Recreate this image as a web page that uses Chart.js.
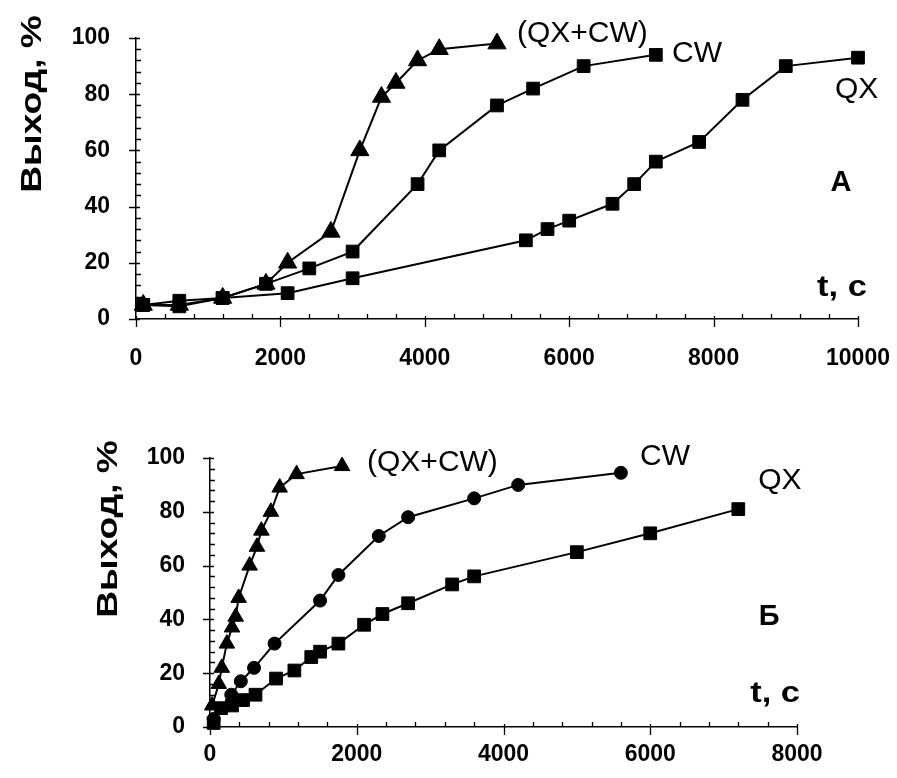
<!DOCTYPE html>
<html>
<head>
<meta charset="utf-8">
<script src="https://cdn.jsdelivr.net/npm/chart.js@4.4.1/dist/chart.umd.min.js"></script>
<style>
  body { margin: 0; background: #fff; }
  .box { position: absolute; left: 0; width: 897px; }
</style>
</head>
<body>
<div class="box" style="top:0;height:390px"><canvas id="chartA"></canvas></div>
<div class="box" style="top:390px;height:388px"><canvas id="chartB"></canvas></div>
<script>
// Panel A
const tA_mix = [100, 600, 1200, 1800, 2100, 2700, 3100, 3400, 3600, 3900, 4200, 5000];
const yA_mix = [5, 5, 7.5, 12.5, 20, 31, 60, 79, 84, 92, 96, 98];
const tA_cw = [100, 600, 1200, 1800, 2400, 3000, 3900, 4200, 5000, 5500, 6200, 7200];
const yA_cw = [5, 6.5, 7.5, 12.5, 18, 24, 48, 60, 76, 82, 90, 94];
const tA_qx = [100, 600, 1200, 2100, 3000, 5400, 5700, 6000, 6600, 6900, 7200, 7800, 8400, 9000, 10000];
const yA_qx = [5, 4.5, 7.5, 9.2, 14.5, 28, 32, 35, 41, 48, 56, 63, 78, 90, 93];

// Panel Б
const tB_mix = [30, 120, 160, 230, 300, 350, 390, 540, 640, 700, 830, 950, 1180, 1800];
const yB_mix = [8, 16, 22, 31, 37, 41, 48, 60, 67, 73, 80, 89, 94, 97];
const tB_cw = [50, 290, 420, 600, 880, 1500, 1750, 2300, 2700, 3600, 4200, 5600];
const yB_cw = [3, 12, 17, 22, 31, 47, 56.5, 71, 78, 85, 90, 94.5];
const tB_qx = [50, 150, 300, 450, 620, 900, 1150, 1380, 1500, 1750, 2100, 2350, 2700, 3300, 3600, 5000, 6000, 7200];
const yB_qx = [1.5, 7, 8, 10, 12, 18, 21, 26, 28, 31, 38, 42, 46, 53, 56, 65, 72, 81];

const yTicks = [0, 20, 40, 60, 80, 100];

const FONT = '"Liberation Sans", Arial, sans-serif';
const pts = (xs, ys) => xs.map((x, i) => ({x: x, y: ys[i]}));

function series(xs, ys, style, r) {
  return {
    data: pts(xs, ys),
    borderColor: '#000',
    borderWidth: 2,
    backgroundColor: '#000',
    pointBackgroundColor: '#000',
    pointBorderColor: '#000',
    pointBorderWidth: 1,
    pointStyle: style,
    pointRadius: r,
    tension: 0,
    clip: false
  };
}

// minor ticks, axis title and the labels written on the plot
const decor = {
  id: 'decor',
  afterDraw(chart, args, o) {
    const {ctx, chartArea: a, scales: {x, y}} = chart;
    ctx.save();
    ctx.strokeStyle = '#000';
    ctx.lineWidth = 1.3;
    ctx.beginPath();
    for (let v = 0; v <= x.max; v += 400) {
      const px = Math.round(x.getPixelForValue(v)) + 0.5;
      if (v % 2000 === 0) { ctx.moveTo(px, a.bottom - 3); ctx.lineTo(px, a.bottom + 8); }
      else { ctx.moveTo(px, a.bottom - 5); ctx.lineTo(px, a.bottom); }
    }
    for (let v = 0; v <= y.max; v += 4) {
      const py = Math.round(y.getPixelForValue(v)) + 0.5;
      if (v % 20 === 0) { ctx.moveTo(a.left - 7, py); ctx.lineTo(a.left + 4, py); }
      else { ctx.moveTo(a.left, py); ctx.lineTo(a.left + 5, py); }
    }
    ctx.stroke();

    ctx.fillStyle = '#000';
    // y title
    ctx.save();
    ctx.translate(o.titleX, o.titleY);
    ctx.rotate(-Math.PI / 2);
    ctx.scale(1.28, 1);
    ctx.font = 'bold 29px ' + FONT;
    ctx.textAlign = 'center';
    ctx.textBaseline = 'middle';
    ctx.fillText('Выход, %', 0, 0);
    ctx.restore();

    o.notes.forEach(n => {
      ctx.save();
      ctx.translate(x.getPixelForValue(n.x), y.getPixelForValue(n.y));
      ctx.scale(n.sx || 1, 1);
      ctx.font = (n.bold ? 'bold ' : '') + n.size + 'px ' + FONT;
      ctx.textAlign = n.align || 'left';
      ctx.textBaseline = 'middle';
      ctx.fillText(n.text, 0, 0);
      ctx.restore();
    });
    ctx.restore();
  }
};

function makeChart(id, datasets, xMax, box) {
  return new Chart(document.getElementById(id), {
    type: 'line',
    data: {datasets: datasets},
    plugins: [decor],
    options: {
      responsive: true,
      maintainAspectRatio: false,
      animation: false,
      layout: {padding: {left: 0, right: box.right, top: box.top, bottom: 0}},
      plugins: {
        legend: {display: false},
        tooltip: {enabled: false},
        decor: {titleX: box.titleX, titleY: box.titleY, notes: box.notes}
      },
      scales: {
        x: {
          type: 'linear',
          min: 0,
          max: xMax,
          grid: {display: false, drawTicks: true, tickLength: box.xPad},
          border: {display: true, color: '#000', width: 1.5},
          ticks: {stepSize: 2000, padding: 0, color: '#000',
                  callback: v => String(v),
                  font: {family: FONT, size: 23, weight: 'bold'}},
          afterFit: s => { s.height = box.xHeight; }
        },
        y: {
          min: 0,
          max: 100,
          afterBuildTicks: s => { s.ticks = yTicks.map(v => ({value: v})); },
          grid: {display: false, drawTicks: true, tickLength: box.yPad},
          border: {display: true, color: '#000', width: 1.5},
          ticks: {padding: 0, color: '#000',
                  font: {family: FONT, size: 23, weight: 'bold'}},
          afterFit: s => { s.width = box.yWidth; }
        }
      }
    }
  });
}

makeChart('chartA', [
  series(tA_qx, yA_qx, 'rect', 9),
  series(tA_cw, yA_cw, 'rect', 9),
  series(tA_mix, yA_mix, 'triangle', 10.5)
], 10000, {
  right: 39, top: 38, yWidth: 136, xHeight: 71, xPad: 26, yPad: 26,
  titleX: 33, titleY: 104,
  notes: [
    {text: '(QX+CW)', x: 5277, y: 101.5, size: 30},
    {text: 'CW', x: 7424, y: 94.4, size: 30},
    {text: 'QX', x: 9681, y: 81.6, size: 30},
    {text: 'А', x: 9765, y: 48.5, size: 29, bold: true, align: 'center'},
    {text: 't, с', x: 9432, y: 11.1, size: 30, bold: true, sx: 1.15}
  ]
});

makeChart('chartB', [
  series(tB_qx, yB_qx, 'rect', 9),
  series(tB_cw, yB_cw, 'circle', 6.5),
  series(tB_mix, yB_mix, 'triangle', 9)
], 8000, {
  right: 100, top: 68, yWidth: 210, xHeight: 51, xPad: 14, yPad: 25,
  titleX: 109, titleY: 529 - 390,
  notes: [
    {text: '(QX+CW)', x: 2140, y: 98.4, size: 30},
    {text: 'CW', x: 5862, y: 100.3, size: 30},
    {text: 'QX', x: 7471, y: 91.7, size: 30},
    {text: 'Б', x: 7621, y: 40.8, size: 29, bold: true, align: 'center'},
    {text: 't, с', x: 7362, y: 12.5, size: 30, bold: true, sx: 1.15}
  ]
});
</script>
</body>
</html>
